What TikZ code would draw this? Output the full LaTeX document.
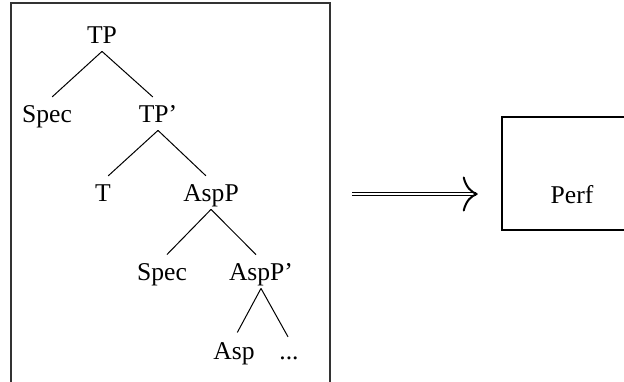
\documentclass[tikz,border=0pt]{standalone}
\usepackage{fontspec}
\setmainfont{Liberation Serif}
\usepackage{tikz}
\usetikzlibrary{arrows.meta}
\usetikzlibrary{calc}
\tikzstyle{cat} = [text height=8pt, text depth=2pt, inner xsep=1pt, inner ysep=2pt, font=\fontsize{12.8}{14}\selectfont]
\tikzstyle{branch} = [line width=0.5pt, shorten >=3.5pt]
\tikzstyle{treeframe} = [line width=0.6pt, black!80]
\tikzstyle{perfbox} = [draw, line width=1.3pt, minimum width=70pt, text height=43pt, text depth=13.5pt, inner sep=0pt, font=\fontsize{12.8}{14}\selectfont]
\tikzstyle{darrow} = [double, double distance=0.8pt, line width=0.7pt, -{Computer Modern Rightarrow[length=7.5pt, width=17.5pt, line width=1pt]}]

\begin{document}
\begin{tikzpicture}[x=0.5pt, y=-0.5pt, node distance=39.5pt]
\useasboundingbox (0,0) rectangle (624,381);
% the tree
\draw [treeframe] (11,390) -- (11,3) -- (330,3) -- (330,390);
\node (tp) [cat] at (102,37) {TP};
\node (spec) [cat, below of=tp, xshift=-27.5pt] {Spec};
\node (tpbar) [cat, below of=tp, xshift=28pt] {TP'};
\node (t) [cat, below of=tpbar, xshift=-27.5pt] {T};
\node (aspp) [cat, below of=tpbar, xshift=26.5pt] {AspP};
\node (specb) [cat, below of=aspp, xshift=-24.5pt] {Spec};
\node (asppbar) [cat, below of=aspp, xshift=25pt] {AspP'};
\node (asp) [cat, below of=asppbar, xshift=-13.5pt] {Asp};
\node (rest) [cat, below of=asppbar, xshift=14pt] {...};
\draw [branch] (tp.south) -- (spec.north);
\draw [branch] (tp.south) -- (tpbar.north);
\draw [branch] (tpbar.south) -- (t.north);
\draw [branch] (tpbar.south) -- (aspp.north);
\draw [branch] (aspp.south) -- (specb.north);
\draw [branch] (aspp.south) -- (asppbar.north);
\draw [branch] (asppbar.south) -- (asp.north);
\draw [branch, shorten >=1pt] (asppbar.south) -- (rest.north);
% the result
\coordinate (treeright) at (330,194);
\node (perf) [perfbox, anchor=base] at (572,203) {Perf};
\draw [darrow, shorten <=11pt, shorten >=11.5pt] (treeright) -- (treeright -| perf.west);
\end{tikzpicture}
\end{document}
